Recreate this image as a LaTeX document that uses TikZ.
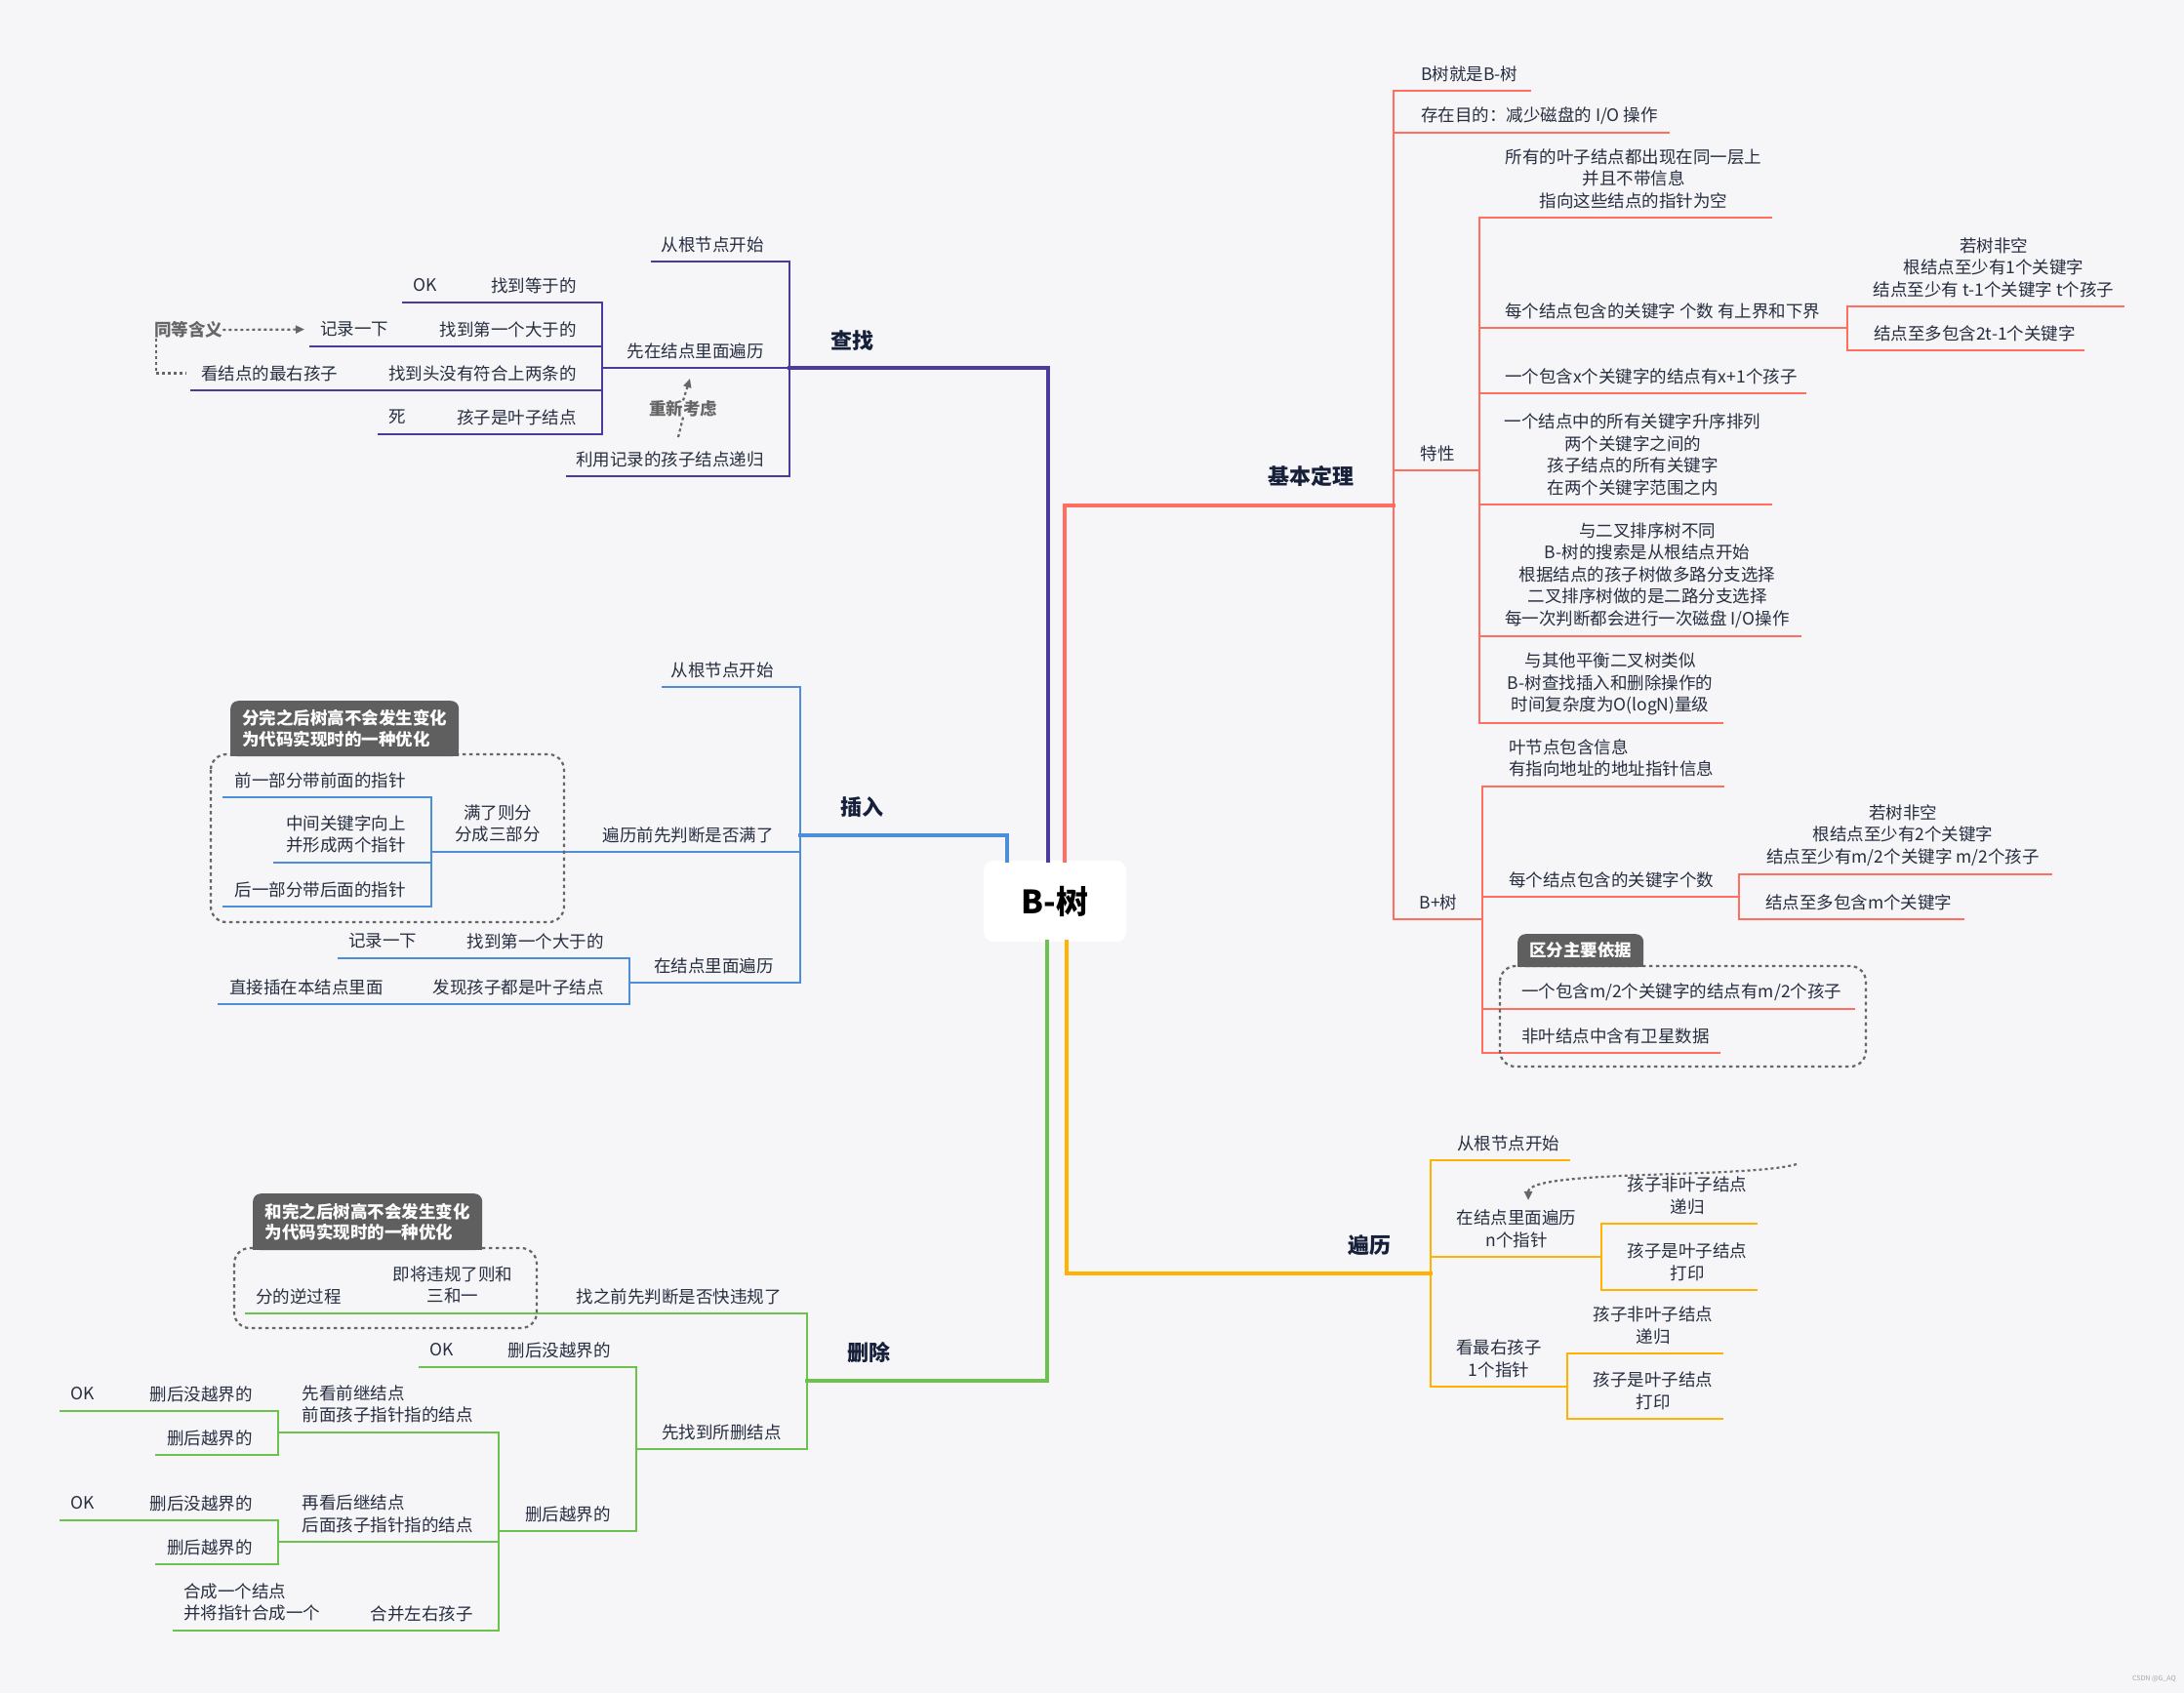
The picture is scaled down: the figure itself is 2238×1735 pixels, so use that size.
\documentclass[tikz,border=0pt]{standalone}
\usepackage{fontspec}
\setmainfont{Noto Sans CJK SC}
\usetikzlibrary{arrows.meta, positioning}
\definecolor{bgGray}{HTML}{F6F6F8}
\definecolor{czPurple}{HTML}{4B3B9C}
\definecolor{crBlue}{HTML}{4D8EDA}
\definecolor{scGreen}{HTML}{6CC14F}
\definecolor{blOrange}{HTML}{FFB300}
\definecolor{jbCoral}{HTML}{FF6E5E}
\definecolor{txtNavy}{HTML}{262E40}
\definecolor{headNavy}{HTML}{16203A}
\definecolor{noteGray}{HTML}{5F5F5F}
\definecolor{relGray}{HTML}{666666}

\begin{document}
\begin{tikzpicture}[x=1pt, y=-1pt,
  txt/.style={inner sep=0pt, text=txtNavy, font=\fontsize{17.5}{22.5}\selectfont},
  head/.style={inner sep=0pt, text=headNavy, font=\fontsize{22}{26}\selectfont\bfseries},
  hint/.style={inner sep=0pt, text=relGray, font=\fontsize{17.5}{22.5}\selectfont\bfseries},
  note/.style={fill=noteGray, text=white, rounded corners=8pt, inner xsep=12pt, inner ysep=0pt,
    font=\fontsize{17.5}{21.5}\selectfont\bfseries, align=left, anchor=north west},
  fence/.style={draw=relGray, line width=2.2pt, dash pattern=on 3.5pt off 3.5pt, rounded corners=16pt},
  rel/.style={draw=relGray, line width=2.2pt, dash pattern=on 3pt off 3pt},
  tip/.style={-{Triangle[length=9pt,width=8pt]}},
  czline/.style={draw=czPurple, line width=2.8pt, line cap=rect},
  crline/.style={draw=crBlue, line width=2.8pt, line cap=rect},
  scline/.style={draw=scGreen, line width=2.8pt, line cap=rect},
  blline/.style={draw=blOrange, line width=2.8pt, line cap=rect},
  jbline/.style={draw=jbCoral, line width=2.8pt, line cap=rect},
  main/.style={line width=3.8pt}
]
  \fill[bgGray] (0,0) rectangle (2238,1735);
  \useasboundingbox (0,0) rectangle (2238,1735);

  % centre
  \node[fill=white, rounded corners=10pt, minimum width=146pt, minimum height=83pt, inner sep=0pt,
    font=\fontsize{33}{36}\selectfont\bfseries, text=black] (root) at (1081,923.5) {B-树};

  % ---------- 查找 ----------
  \coordinate (cz-end) at (809,377);
  \node[head] (cz) at (873,349) {查找};
  \draw[czline, main] ([xshift=-7pt]root.north) |- (cz-end);

  \coordinate (cz1-end) at (668,268);
  \node[txt, anchor=east] (cz1) at (783,250.5) {从根节点开始};
  \coordinate (cz2-end) at (617,377);
  \node[txt, anchor=east] (cz2) at (783,359.5) {先在结点里面遍历};
  \coordinate (cz3-end) at (581,488);
  \node[txt, anchor=east] (cz3) at (783,470.5) {利用记录的孩子结点递归};
  \draw[czline] (cz-end) |- (cz1-end);
  \draw[czline] (cz-end) |- (cz2-end);
  \draw[czline] (cz-end) |- (cz3-end);

  \coordinate (cz21-end) at (493,310);
  \node[txt, anchor=east] (cz21) at (591,292.5) {找到等于的};
  \coordinate (cz211-end) at (413,310);
  \node[txt, anchor=west] (cz211) at (423,292.5) {OK};
  \coordinate (cz22-end) at (441,355);
  \node[txt, anchor=east] (cz22) at (591,337.5) {找到第一个大于的};
  \coordinate (cz221-end) at (318,355);
  \node[txt, anchor=west] (cz221) at (328,337.5) {记录一下};
  \coordinate (cz23-end) at (388,400);
  \node[txt, anchor=east] (cz23) at (591,382.5) {找到头没有符合上两条的};
  \coordinate (cz231-end) at (196,400);
  \node[txt, anchor=west] (cz231) at (206,382.5) {看结点的最右孩子};
  \coordinate (cz24-end) at (458,445);
  \node[txt, anchor=east] (cz24) at (591,427.5) {孩子是叶子结点};
  \coordinate (cz241-end) at (388,445);
  \node[txt, anchor=west] (cz241) at (398,427.5) {死};
  \draw[czline] (cz2-end) |- (cz21-end);
  \draw[czline] (cz2-end) |- (cz22-end);
  \draw[czline] (cz2-end) |- (cz23-end);
  \draw[czline] (cz2-end) |- (cz24-end);
  \draw[czline] (cz21-end) -- (cz211-end);
  \draw[czline] (cz22-end) -- (cz221-end);
  \draw[czline] (cz23-end) -- (cz231-end);
  \draw[czline] (cz24-end) -- (cz241-end);

  \node[hint, anchor=west] (same) at (158,338) {同等含义};
  \draw[rel, tip, shorten >=16pt] (same.east) -- (cz221.west);
  \draw[rel] ([xshift=2pt]same.south west) |- ([xshift=-15pt]cz231.west);

  \node[hint] (rethink) at (700,419) {重新考虑};
  \coordinate (rethink-to) at (707,388);
  \coordinate (rethink-from) at (695,448);
  \draw[rel] (rethink-from) -- (rethink.south);
  \draw[rel, tip] (rethink.north) -- (rethink-to);

  % ---------- 插入 ----------
  \coordinate (cr-end) at (820,856);
  \node[head] (cr) at (883,827) {插入};
  \draw[crline, main] ([xshift=-49pt]root.north) |- (cr-end);

  \coordinate (cr1-end) at (679,704);
  \node[txt, anchor=east] (cr1) at (793,686.5) {从根节点开始};
  \coordinate (cr2-end) at (563,873);
  \node[txt, anchor=east] (cr2) at (793,855.5) {遍历前先判断是否满了};
  \coordinate (cr3-end) at (645,1007);
  \node[txt, anchor=east] (cr3) at (793,989.5) {在结点里面遍历};
  \draw[crline] (cr-end) |- (cr1-end);
  \draw[crline] (cr-end) |- (cr2-end);
  \draw[crline] (cr-end) |- (cr3-end);

  \coordinate (cr21-end) at (442,873);
  \node[txt, align=center] (cr21) at (510,844) {满了则分\\分成三部分};
  \draw[crline] (cr2-end) -- (cr21-end);
  \coordinate (cr211-end) at (229,817);
  \node[txt, anchor=east] (cr211) at (416,799.5) {前一部分带前面的指针};
  \coordinate (cr212-end) at (281,884);
  \node[txt, anchor=east, align=left] (cr212) at (416,855) {中间关键字向上\\并形成两个指针};
  \coordinate (cr213-end) at (229,929);
  \node[txt, anchor=east] (cr213) at (416,911.5) {后一部分带后面的指针};
  \draw[crline] (cr21-end) |- (cr211-end);
  \draw[crline] (cr21-end) |- (cr212-end);
  \draw[crline] (cr21-end) |- (cr213-end);

  \coordinate (cr31-end) at (471,982);
  \node[txt, anchor=east] (cr31) at (619,964.5) {找到第一个大于的};
  \coordinate (cr311-end) at (347,982);
  \node[txt, anchor=west] (cr311) at (357,964.5) {记录一下};
  \coordinate (cr32-end) at (428,1029);
  \node[txt, anchor=east] (cr32) at (619,1011.5) {发现孩子都是叶子结点};
  \coordinate (cr321-end) at (224,1029);
  \node[txt, anchor=west] (cr321) at (235,1011.5) {直接插在本结点里面};
  \draw[crline] (cr3-end) |- (cr31-end);
  \draw[crline] (cr3-end) |- (cr32-end);
  \draw[crline] (cr31-end) -- (cr311-end);
  \draw[crline] (cr32-end) -- (cr321-end);

  \draw[fence] (216,773) rectangle (578,945);
  \node[note, minimum width=234pt, minimum height=57pt] (cr-note) at (236,718)
    {分完之后树高不会发生变化\\为代码实现时的一种优化};
  \fill[noteGray] ([yshift=10pt]cr-note.south west) rectangle (cr-note.south east);

  % ---------- 删除 ----------
  \coordinate (sc-end) at (827,1415);
  \node[head] (sc) at (890,1386) {删除};
  \draw[scline, main] ([xshift=-8pt]root.south) |- (sc-end);

  \coordinate (sc1-end) at (581,1346);
  \node[txt, anchor=east] (sc1) at (801,1328.5) {找之前先判断是否快违规了};
  \coordinate (sc2-end) at (652,1485);
  \node[txt, anchor=east] (sc2) at (801,1467.5) {先找到所删结点};
  \draw[scline] (sc-end) |- (sc1-end);
  \draw[scline] (sc-end) |- (sc2-end);

  \coordinate (sc11-end) at (392,1346);
  \node[txt, align=center] (sc11) at (464,1317) {即将违规了则和\\三和一};
  \coordinate (sc111-end) at (252,1346);
  \node[txt, anchor=west] (sc111) at (262,1328.5) {分的逆过程};
  \draw[scline] (sc1-end) -- (sc11-end);
  \draw[scline] (sc11-end) -- (sc111-end);

  \coordinate (sc21-end) at (510,1401);
  \node[txt, anchor=east] (sc21) at (626,1383.5) {删后没越界的};
  \coordinate (sc211-end) at (430,1401);
  \node[txt, anchor=west] (sc211) at (440,1383.5) {OK};
  \coordinate (sc22-end) at (511,1569);
  \node[txt, anchor=east] (sc22) at (626,1551.5) {删后越界的};
  \draw[scline] (sc2-end) |- (sc21-end);
  \draw[scline] (sc2-end) |- (sc22-end);
  \draw[scline] (sc21-end) -- (sc211-end);

  \coordinate (sc221-end) at (285,1468);
  \node[txt, anchor=east, align=left] (sc221) at (485,1439) {先看前继结点\\前面孩子指针指的结点};
  \coordinate (sc222-end) at (285,1580);
  \node[txt, anchor=east, align=left] (sc222) at (485,1551.5) {再看后继结点\\后面孩子指针指的结点};
  \coordinate (sc223-end) at (370,1671);
  \node[txt, anchor=east] (sc223) at (485,1653.5) {合并左右孩子};
  \coordinate (sc2231-end) at (178,1671);
  \node[txt, anchor=west, align=left] (sc2231) at (188,1642) {合成一个结点\\并将指针合成一个};
  \draw[scline] (sc22-end) |- (sc221-end);
  \draw[scline] (sc22-end) |- (sc222-end);
  \draw[scline] (sc22-end) |- (sc223-end);
  \draw[scline] (sc223-end) -- (sc2231-end);

  \coordinate (sc2211-end) at (142,1446);
  \node[txt, anchor=east] (sc2211) at (259,1428.5) {删后没越界的};
  \coordinate (sc22111-end) at (62,1446);
  \node[txt, anchor=west] (sc22111) at (72,1428.5) {OK};
  \coordinate (sc2212-end) at (160,1491);
  \node[txt, anchor=east] (sc2212) at (259,1473.5) {删后越界的};
  \coordinate (sc2221-end) at (142,1558);
  \node[txt, anchor=east] (sc2221) at (259,1540.5) {删后没越界的};
  \coordinate (sc22211-end) at (62,1558);
  \node[txt, anchor=west] (sc22211) at (72,1540.5) {OK};
  \coordinate (sc2222-end) at (160,1603);
  \node[txt, anchor=east] (sc2222) at (259,1585.5) {删后越界的};
  \draw[scline] (sc221-end) |- (sc2211-end);
  \draw[scline] (sc221-end) |- (sc2212-end);
  \draw[scline] (sc2211-end) -- (sc22111-end);
  \draw[scline] (sc222-end) |- (sc2221-end);
  \draw[scline] (sc222-end) |- (sc2222-end);
  \draw[scline] (sc2221-end) -- (sc22211-end);

  \draw[fence] (240,1279) rectangle (550,1361);
  \node[note, minimum width=235pt, minimum height=58pt] (sc-note) at (259,1223)
    {和完之后树高不会发生变化\\为代码实现时的一种优化};
  \fill[noteGray] ([yshift=10pt]sc-note.south west) rectangle (sc-note.south east);

  % ---------- 遍历 ----------
  \coordinate (bl-end) at (1466,1305);
  \node[head] (bl) at (1403,1276) {遍历};
  \draw[blline, main] ([xshift=12pt]root.south) |- (bl-end);

  \coordinate (bl1-end) at (1608,1189);
  \node[txt, anchor=west] (bl1) at (1493,1171.5) {从根节点开始};
  \coordinate (bl2-end) at (1641,1288);
  \node[txt, align=center] (bl2) at (1554,1259.5) {在结点里面遍历\\n个指针};
  \coordinate (bl3-end) at (1606,1421);
  \node[txt, align=center] (bl3) at (1536,1392.5) {看最右孩子\\1个指针};
  \draw[blline] (bl-end) |- (bl1-end);
  \draw[blline] (bl-end) |- (bl2-end);
  \draw[blline] (bl-end) |- (bl3-end);

  \coordinate (bl21-end) at (1800,1254);
  \node[txt, align=center] (bl21) at (1729,1225.5) {孩子非叶子结点\\递归};
  \coordinate (bl22-end) at (1800,1322);
  \node[txt, align=center] (bl22) at (1729,1293.5) {孩子是叶子结点\\打印};
  \coordinate (bl31-end) at (1765,1387);
  \node[txt, align=center] (bl31) at (1694,1358.5) {孩子非叶子结点\\递归};
  \coordinate (bl32-end) at (1765,1454);
  \node[txt, align=center] (bl32) at (1694,1425.5) {孩子是叶子结点\\打印};
  \draw[blline] (bl2-end) |- (bl21-end);
  \draw[blline] (bl2-end) |- (bl22-end);
  \draw[blline] (bl3-end) |- (bl31-end);
  \draw[blline] (bl3-end) |- (bl32-end);

  \coordinate (bl-loop) at (1841,1193);
  \draw[rel, tip] (bl-loop) .. controls (1790,1208) and (1566,1198) .. ([xshift=12pt, yshift=10pt]bl2.north);

  % ---------- 基本定理 ----------
  \coordinate (jb-end) at (1428,518);
  \node[head] (jb) at (1343,488) {基本定理};
  \draw[jbline, main] ([xshift=10pt]root.north) |- (jb-end);

  \coordinate (jb1-end) at (1568,93);
  \node[txt, anchor=west] (jb1) at (1456,75.5) {B树就是B-树};
  \coordinate (jb2-end) at (1710,136);
  \node[txt, anchor=west] (jb2) at (1456,118.5) {存在目的：减少磁盘的 I/O 操作};
  \coordinate (jb3-end) at (1516,482);
  \node[txt] (jb3) at (1473,464.5) {特性};
  \coordinate (jb4-end) at (1519,942);
  \node[txt] (jb4) at (1474,924.5) {B+树};
  \draw[jbline] (jb-end) |- (jb1-end);
  \draw[jbline] (jb-end) |- (jb2-end);
  \draw[jbline] (jb-end) |- (jb3-end);
  \draw[jbline] (jb-end) |- (jb4-end);

  \coordinate (jb31-end) at (1815,223);
  \node[txt, align=center] (jb31) at (1674,183)
    {所有的叶子结点都出现在同一层上\\并且不带信息\\指向这些结点的指针为空};
  \coordinate (jb32-end) at (1893,336);
  \node[txt, anchor=west] (jb32) at (1542,318.5) {每个结点包含的关键字 个数 有上界和下界};
  \coordinate (jb321-end) at (2176,314);
  \node[txt, align=center] (jb321) at (2043,274)
    {若树非空\\根结点至少有1个关键字\\结点至少有 t-1个关键字 t个孩子};
  \coordinate (jb322-end) at (2135,359);
  \node[txt, anchor=west] (jb322) at (1920,341.5) {结点至多包含2t-1个关键字};
  \coordinate (jb33-end) at (1850,403);
  \node[txt, anchor=west] (jb33) at (1542,385.5) {一个包含x个关键字的结点有x+1个孩子};
  \coordinate (jb34-end) at (1815,517);
  \node[txt, align=center] (jb34) at (1673,465.75)
    {一个结点中的所有关键字升序排列\\两个关键字之间的\\孩子结点的所有关键字\\在两个关键字范围之内};
  \coordinate (jb35-end) at (1845,652);
  \node[txt, align=center] (jb35) at (1688,589.5)
    {与二叉排序树不同\\B-树的搜索是从根结点开始\\根据结点的孩子树做多路分支选择\\二叉排序树做的是二路分支选择\\每一次判断都会进行一次磁盘 I/O操作};
  \coordinate (jb36-end) at (1765,741);
  \node[txt, align=center] (jb36) at (1650,701)
    {与其他平衡二叉树类似\\B-树查找插入和删除操作的\\时间复杂度为O(logN)量级};
  \draw[jbline] (jb3-end) |- (jb31-end);
  \draw[jbline] (jb3-end) |- (jb32-end);
  \draw[jbline] (jb3-end) |- (jb33-end);
  \draw[jbline] (jb3-end) |- (jb34-end);
  \draw[jbline] (jb3-end) |- (jb35-end);
  \draw[jbline] (jb3-end) |- (jb36-end);
  \draw[jbline] (jb32-end) |- (jb321-end);
  \draw[jbline] (jb32-end) |- (jb322-end);

  \coordinate (jb41-end) at (1766,806);
  \node[txt, anchor=west, align=left] (jb41) at (1546,777) {叶节点包含信息\\有指向地址的地址指针信息};
  \coordinate (jb42-end) at (1782,919);
  \node[txt, anchor=west] (jb42) at (1546,901.5) {每个结点包含的关键字个数};
  \coordinate (jb421-end) at (2102,896);
  \node[txt, align=center] (jb421) at (1950,856)
    {若树非空\\根结点至少有2个关键字\\结点至少有m/2个关键字 m/2个孩子};
  \coordinate (jb422-end) at (2012,942);
  \node[txt, anchor=west] (jb422) at (1809,924.5) {结点至多包含m个关键字};
  \coordinate (jb43-end) at (1900,1034);
  \node[txt, anchor=west] (jb43) at (1559,1016.5) {一个包含m/2个关键字的结点有m/2个孩子};
  \coordinate (jb44-end) at (1762,1079);
  \node[txt, anchor=west] (jb44) at (1559,1061.5) {非叶结点中含有卫星数据};
  \draw[jbline] (jb4-end) |- (jb41-end);
  \draw[jbline] (jb4-end) |- (jb42-end);
  \draw[jbline] (jb4-end) |- (jb43-end);
  \draw[jbline] (jb4-end) |- (jb44-end);
  \draw[jbline] (jb42-end) |- (jb421-end);
  \draw[jbline] (jb42-end) |- (jb422-end);

  \draw[fence] (1537,990) rectangle (1912,1093);
  \node[note, minimum width=129pt, minimum height=34pt] (jb-note) at (1555,957) {区分主要依据};
  \fill[noteGray] ([yshift=10pt]jb-note.south west) rectangle (jb-note.south east);

  \node[inner sep=0pt, text=gray!70, font=\fontsize{7}{8}\selectfont, anchor=east] (mark) at (2230,1721) {CSDN @G\_AQ};
\end{tikzpicture}
\end{document}
